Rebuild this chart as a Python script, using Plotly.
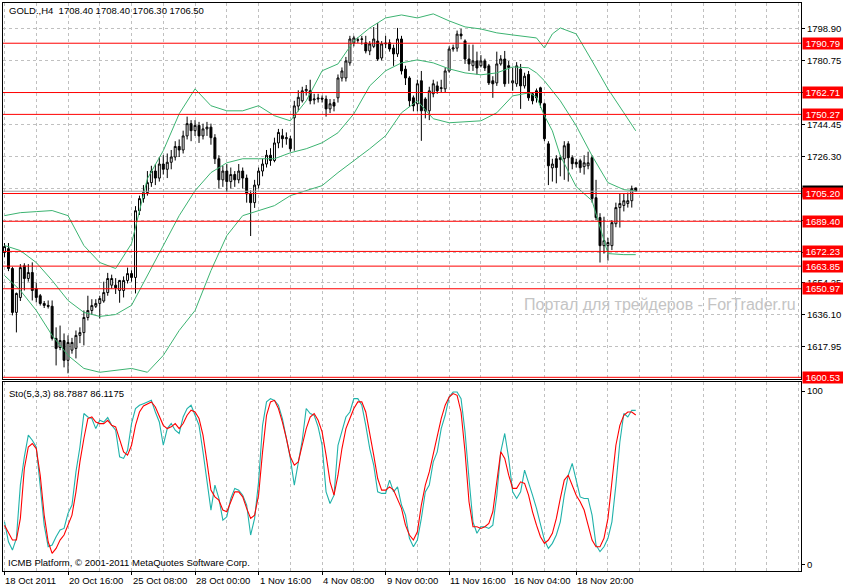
import plotly.graph_objects as go

# ---------------- data ----------------
opens = [1671.6,1673.8,1662.5,1637.5,1646,1664,1656.8,1660.2,1651,1647,1642.6,1641.5,1641,1622.7,1617.5,1621.5,1610.2,1616,1617,1624.4,
         1626,1634.6,1638.6,1641,1642.6,1644,1648.8,1653,1653,1650,1650,1655.7,1659.6,1657.4,1695.4,1702.3,1705.7,1711.4,1718,1714,
         1722,1719,1723,1726,1732,1730,1738,1745,1741,1744,1738,1742,1743,1737,1725,1713,1718,1712,1716,1713,
         1718,1714,1705,1700,1710,1718,1722,1727,1724,1734,1738.1,1736.4,1736.4,1748.3,1755,1758,1763.7,1763.7,1758.5,1759,
         1759.5,1759,1753.4,1757,1759.7,1771,1771,1779.6,1791,1792.5,1793,1791,1786.4,1789,1792,1782.4,1790.4,1791,1788,1784.7,
         1793.2,1776,1771,1759.7,1756.3,1769.4,1759,1752.3,1762,1766.5,1765,1764.8,1775,1787.5,1788,1796,1792.1,1781.8,1778,1780.7,
         1778,1780.7,1777.9,1769.4,1768.2,1779,1781.8,1778,1768.2,1767.7,1776,1766.5,1773,1762,1763.7,1765.4,1756.3,1733.5,1719.8,1725,
         1724.5,1725,1733.5,1725.6,1723,1723.9,1720.5,1721,1725.6,1702.8,1691.5,1675.5,1675.5,1675.5,1688,1697.2,1698.4,1699.5,1701.1,1708.4]
highs = [1677,1677,1663.5,1648.8,1665,1665.5,1665,1666,1654.5,1648,1644,1644.3,1644.3,1629,1630,1625.5,1624.4,1623,1627.2,1629,
         1638.6,1647,1645,1645,1647,1655,1660,1659,1657,1656,1658,1663,1661.5,1698,1704,1710,1718,1721,1722,1726,
         1727,1728,1730,1735,1736,1741,1749,1747,1747,1746,1745,1746,1745,1739,1727,1721,1722,1720,1718,1722,
         1720,1716,1707,1713,1720,1725,1730,1731,1737,1742,1742,1740,1738,1758,1764,1766,1767,1770,1762,1762,
         1761,1761,1759,1759,1773,1777,1783,1795,1795,1794,1795,1795,1792,1800,1802.3,1792,1795,1793,1790,1799.5,
         1795,1778,1772,1761,1770,1775,1760,1766,1770,1769,1770,1777,1789,1790,1798,1799,1793,1790,1790,1786,
         1784,1782,1779,1772,1786,1784,1786.4,1780.7,1777,1780,1779,1774,1775,1763,1765,1766,1757,1735,1725,1727,
         1727,1735,1735,1727,1725,1725,1727,1729,1727,1713,1694,1692,1680,1690,1700,1705,1705,1705.7,1709.7,1708.4]
lows = [1669,1661,1635.8,1626.1,1644,1650,1655,1644.3,1643.2,1641.4,1640,1639.7,1621.5,1607.3,1616,1606.2,1602.8,1614,1611.3,1620,
        1618.7,1632.9,1636,1640,1634,1643,1647,1651,1648,1643,1646,1654,1655,1648.3,1693,1700,1704,1709,1710,1712,
        1716,1714,1719,1724,1726,1728,1736,1735,1738,1734,1736,1738,1733,1722,1708,1709,1706,1708,1709,1711,
        1708,1700,1681,1697,1708,1715,1720,1721,1723,1731,1731.3,1733,1729,1729.6,1752,1757,1761,1756,1756,1757,
        1757,1749,1751,1752,1757,1769,1769,1778,1789,1791,1790,1785,1784,1788,1780.7,1781,1788,1786,1777.9,1783,
        1773,1767,1754.5,1752,1752,1735.2,1748,1747,1760,1762,1763,1763,1774,1786,1786,1793,1779,1775,1775,1773,
        1777,1775,1767,1759.7,1766.5,1778,1766,1767.7,1763.7,1766,1753.4,1765,1758,1756,1757,1754,1735,1710,1712,1711,
        1715,1713,1712,1719,1720,1717,1716,1719,1700,1690,1665.9,1671,1667,1673,1686,1685.8,1695,1697.2,1697.2,1706.3]
closes = [1675,1662.5,1637.5,1648.3,1663,1656.8,1660.2,1650,1646,1642.6,1641.5,1641,1622.7,1617,1621.5,1610.2,1620.4,1620.4,1624.4,1626,
          1634.6,1638.6,1641.4,1642.6,1645.4,1648.8,1656.8,1656.8,1651.5,1655.7,1655.7,1659.6,1657.4,1695.4,1702.3,1705.7,1711.4,1718,1714,1722,
          1719,1723,1726,1732,1730,1738,1745,1741,1744,1738,1742,1743,1737,1725,1713,1718,1712,1716,1713,1718,
          1714,1705,1700,1710,1718,1722,1727,1724,1734,1740,1736.4,1737,1730.7,1755.1,1760,1763.7,1764.5,1758,1759,1759.5,
          1759,1753.4,1756.3,1755,1771,1775,1780.7,1793.2,1793.8,1792.7,1793.2,1786.4,1790.4,1793.2,1781.8,1790.4,1790.8,1787.5,1784.7,1793.2,
          1775,1771,1758,1755.1,1767.7,1752.3,1752.3,1763.7,1767.7,1763.7,1765.4,1775,1787.5,1788.1,1796,1795,1781.8,1779,1780.7,1776.7,
          1780.7,1776.7,1768.2,1767.7,1779,1781.8,1767.7,1777,1769.4,1777.9,1766.5,1772,1759.7,1758,1759.7,1756.8,1736.4,1721,1722,1720,
          1725.6,1732.4,1725.6,1722.2,1722,1719.9,1722.7,1722.7,1702.3,1691.5,1675.5,1678.4,1677.3,1688.6,1697.2,1699.5,1701.1,1701.1,1708,1706.5]

bb_bars = [0,4,8,12,16,20,24,28,32,36,40,44,48,52,56,60,64,68,72,76,80,84,88,92,96,100,104,108,112,116,120,124,128,132,134,136,138,140,144,148,152,156,159]
bb_upper = [1692.6,1694.3,1694.9,1695.5,1692.6,1675.6,1665.9,1662.5,1676.7,1713.7,1729.6,1750.6,1764.8,1755.2,1752.3,1752.3,1755.2,1749.5,1746.6,1758.0,
            1775.1,1779.0,1792.1,1799.5,1805.2,1806.9,1805.2,1807.5,1803.5,1800.1,1798.9,1796.7,1795.5,1794.4,1793.8,1788.1,1796.1,1799.5,1796.1,1780.7,1764.8,1751.2,1740.9]
bb_middle = [1675.6,1672.7,1665.9,1655.7,1644.3,1637.5,1635.2,1636.3,1641.5,1658.5,1675.6,1692.6,1706.8,1717.1,1722.7,1725.0,1725.0,1725.0,1728.4,1730.7,
             1734.1,1739.8,1750.6,1766.5,1775.1,1779.6,1781.3,1779.6,1776.2,1773.9,1772.8,1773.9,1777.3,1776.8,1773.9,1769.4,1763.7,1758.0,1743.8,1726.7,1711.4,1707.4,1706.8]
bb_lower = [1658.5,1650.0,1638.6,1624.4,1613.0,1605.6,1603.4,1604.5,1605.6,1603.4,1613.0,1627.2,1638.6,1661.3,1681.2,1692.6,1695.5,1698.3,1704.0,1706.8,
            1709.7,1717.1,1723.9,1730.7,1738.1,1751.2,1758.0,1747.8,1745.5,1746.1,1746.6,1751.2,1760.8,1762.5,1760.3,1749.5,1740.9,1726.7,1709.1,1701.1,1671.0,1670.4,1670.4]

sto_k = [24.5,13,8.2,15,45.7,62,74.5,71.6,67.7,45.7,22.6,10.2,11.1,15.9,19.8,20.7,29.4,34.2,53.3,67.7,
         87,85,84.1,78.3,83.1,82.1,84.7,80.2,77.4,62,61.1,65.8,81.2,89.9,91.8,92.7,93.7,94.6,87.9,82.1,
         68.7,78.3,81.2,77.4,75.5,85,89.9,91.8,86,80.2,64.9,47.6,31.3,45.7,38,25.5,27.4,38,43.8,42.8,
         39.9,34.2,16.9,26.5,47.6,80.2,93.7,95.6,94.6,91.8,84.1,72.6,61.1,45.7,59.1,71.6,89.9,87,86,79.3,
         68.7,41.8,35.1,39.9,68.7,76.4,85,87.9,95.6,95.6,91.8,80.2,66.8,57.2,41.8,40.9,40.9,48.6,41.8,44.7,
         34.2,28.4,15,10.1,14,26.5,41.8,45.7,59.1,64.9,78.3,86,96.5,99.4,99.4,95.6,76.4,49.5,24.5,17.9,
         21.7,21.7,20.7,22.6,39.9,64.9,75.5,61.1,41.8,38,41.8,54.3,47.6,39.9,32.3,22.6,14,9.2,12.1,16.9,
         24.5,39.9,51.4,58.2,47.6,38.9,38,38,28.4,11.1,7.3,10.1,15,24.5,45.7,70.6,87,85,88.9,88.79]
sto_d = [22.6,17.9,14,14,26.5,55.3,67.7,69.7,66.8,51.4,28.4,13,6.3,9.2,14,16.9,22.6,28.4,41.8,59.1,
         72.6,84.1,85,82.1,81.2,81.2,83.1,80.2,79.3,72.6,64.9,63,68.7,80.2,87.9,91.4,92.7,93.7,90.8,86,
         80.2,78.3,79.3,81.2,78.3,81.2,86,88.9,87.9,84.1,74.5,59.1,42.8,38.9,37,31.3,30.3,36.1,41.8,41.8,
         38.9,32.3,26.5,28.4,39.9,64.9,86,93.7,94.6,89.9,82.1,72.6,62,57.2,59.1,68.7,78.3,85,87,83.1,
         76.4,63,47.6,39.9,51.4,66.8,78.3,84.1,89.9,93.7,93.7,87.9,76.4,63,49.5,42.8,42.8,44.7,42.8,38,
         32.3,22.6,16.9,14,18.8,34.2,45.7,53.3,63,74.5,84.1,91.8,96.5,98.5,97.5,87.9,64.9,36.1,21.7,21.7,
         20.7,21.7,23.6,30.3,47.6,64.9,61.1,51.4,43.8,43.8,47.6,46.7,39.9,30.3,22.6,15.9,12.1,14,17.9,26.5,
         38,48.6,51.4,45.7,39.9,36.1,31.3,22.6,14,10.1,10.1,15,26.5,47.6,68.7,80.2,86,87.9,87.9,86.12]

levels = [1790.79, 1762.71, 1750.27, 1705.20, 1689.40, 1672.23, 1663.85, 1650.97, 1600.53]
bid = 1706.50
price_ticks = [1798.90, 1780.75, 1762.60, 1744.45, 1726.30, 1708.15, 1690.00, 1671.85, 1654.25, 1636.10, 1617.95]
time_label_bars = [0, 16, 32, 48, 64, 80, 96, 112, 128, 144]
time_labels = ["18 Oct 2011", "20 Oct 16:00", "25 Oct 08:00", "28 Oct 00:00", "1 Nov 16:00",
               "4 Nov 08:00", "9 Nov 00:00", "11 Nov 16:00", "16 Nov 04:00", "18 Nov 20:00"]
title_text = "GOLD.,H4  1708.40 1708.40 1706.30 1706.50"
sto_text = "Sto(5,3,3) 88.7887 86.1175"

# ---------------- figure ----------------
bars = list(range(len(closes)))
FONT = "Liberation Sans, Arial, sans-serif"
GRID = "#c0c0c0"
W, H = 843, 588
ML, MR, MT, MB = 2, 37, 2, 17
PW, PH = W - ML - MR, H - MT - MB


def px_x(px):
    return (px - ML) / PW


def px_y(py):
    return (H - MB - py) / PH


fig = go.Figure()
fig.add_trace(go.Candlestick(
    x=bars, open=opens, high=highs, low=lows, close=closes,
    increasing=dict(line=dict(color="black", width=1), fillcolor="white"),
    decreasing=dict(line=dict(color="black", width=1), fillcolor="black"),
    whiskerwidth=0, hoverinfo="skip", xaxis="x", yaxis="y", showlegend=False))
for band in (bb_upper, bb_middle, bb_lower):
    fig.add_trace(go.Scatter(x=bb_bars, y=band, mode="lines",
                             line=dict(color="#3cb371", width=1),
                             hoverinfo="skip", showlegend=False, xaxis="x", yaxis="y"))
fig.add_trace(go.Scatter(x=bars, y=sto_k, mode="lines", line=dict(color="#20b2aa", width=1.1),
                         hoverinfo="skip", showlegend=False, xaxis="x2", yaxis="y2"))
fig.add_trace(go.Scatter(x=bars, y=sto_d, mode="lines", line=dict(color="#ff0000", width=1.1),
                         hoverinfo="skip", showlegend=False, xaxis="x2", yaxis="y2"))

shapes = [dict(type="line", xref="x domain", yref="y", x0=0, x1=1, y0=bid, y1=bid,
               line=dict(color="#a0a0a0", width=1), layer="above")]
for lv in levels:
    shapes.append(dict(type="line", xref="x domain", yref="y", x0=0, x1=1, y0=lv, y1=lv,
                       line=dict(color="#ff0000", width=1), layer="above"))

NB = "\u00a0"
ann = []
ann.append(dict(x=px_x(807), xref="paper", y=bid, yref="y", text=NB + "%.2f" % bid + NB,
                showarrow=False, xanchor="left", yanchor="middle", bgcolor="black",
                font=dict(family=FONT, size=9.5, color="white"), borderpad=0))
for lv in levels:
    ann.append(dict(x=px_x(807), xref="paper", y=lv, yref="y", text=NB + "%.2f" % lv + NB,
                    showarrow=False, xanchor="left", yanchor="middle", bgcolor="#ff0000",
                    font=dict(family=FONT, size=9.5, color="white"), borderpad=0))
for b, t in zip(time_label_bars, time_labels):
    ann.append(dict(x=b, xref="x2", y=px_y(581), yref="paper", text=t, showarrow=False,
                    xanchor="left", yanchor="middle", xshift=-1,
                    font=dict(family=FONT, size=9.5, color="black")))
ann.append(dict(x=px_x(6), xref="paper", y=px_y(10), yref="paper", text=title_text,
                showarrow=False, xanchor="left", yanchor="middle",
                font=dict(family=FONT, size=9.5, color="black")))
ann.append(dict(x=px_x(6), xref="paper", y=px_y(393.5), yref="paper", text=sto_text,
                showarrow=False, xanchor="left", yanchor="middle",
                font=dict(family=FONT, size=9.5, color="black")))
ann.append(dict(x=px_x(5), xref="paper", y=px_y(562.5), yref="paper",
                text="ICMB Platform, \u00a9 2001-2011 MetaQuotes Software Corp.",
                showarrow=False, xanchor="left", yanchor="middle",
                font=dict(family=FONT, size=9.5, color="black")))
ann.append(dict(x=px_x(525), xref="paper", y=px_y(304), yref="paper",
                text="Портал для трейдеров - ForTrader.ru",
                showarrow=False, xanchor="left", yanchor="middle",
                font=dict(family=FONT, size=16, color="#c4c4c4")))

x_range = [-0.375, 200.625]
main_dom = [px_y(379), 1]
sub_dom = [0, px_y(382)]
grid_bars = list(range(0, 201, 8))

fig.update_layout(
    width=W, height=H, margin=dict(l=ML, r=MR, t=MT, b=MB),
    paper_bgcolor="white", plot_bgcolor="white", showlegend=False,
    font=dict(family=FONT, size=9.5, color="black"),
    xaxis=dict(domain=[0, 1], range=x_range, anchor="y", tickvals=grid_bars, showticklabels=False,
               ticks="", showgrid=True, gridcolor=GRID, griddash="3px,3px", gridwidth=1,
               showline=True, mirror=True, linecolor="black", linewidth=1, zeroline=False,
               rangeslider=dict(visible=False), fixedrange=True),
    xaxis2=dict(domain=[0, 1], range=x_range, anchor="y2", matches="x",
                tickvals=time_label_bars, showticklabels=False, ticks="outside", ticklen=3,
                tickcolor="black", showgrid=True, gridcolor=GRID, griddash="3px,3px",
                minor=dict(tickvals=grid_bars, showgrid=True, gridcolor=GRID, griddash="3px,3px", ticks=""),
                showline=True, mirror=True, linecolor="black", linewidth=1, zeroline=False),
    yaxis=dict(domain=main_dom, range=[1599.38, 1813.70], anchor="x", side="right",
               tickvals=price_ticks, ticktext=["%.2f" % v for v in price_ticks],
               ticks="outside", ticklen=3, tickcolor="black",
               tickfont=dict(family=FONT, size=9.5, color="black"),
               showgrid=True, gridcolor=GRID, griddash="3px,3px",
               showline=True, mirror=True, linecolor="black", linewidth=1, zeroline=False),
    yaxis2=dict(domain=sub_dom, range=[-3.86, 105.0], anchor="x2", side="right",
                tickvals=[0, 100], ticktext=["0", "100"], ticks="outside", ticklen=3,
                tickcolor="black", tickfont=dict(family=FONT, size=9.5, color="black"),
                showgrid=False, showline=True, mirror=True, linecolor="black", linewidth=1,
                zeroline=False),
    shapes=shapes, annotations=ann,
)

fig.write_html("out.html", config={"displayModeBar": False, "staticPlot": True},
               post_script="document.body.style.margin='0';document.body.style.overflow='hidden';")
